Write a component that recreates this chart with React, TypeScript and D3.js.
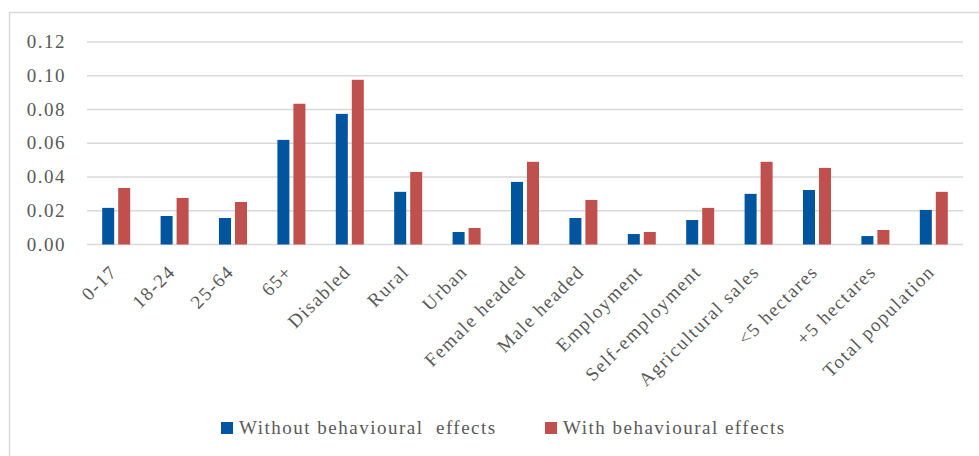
import React from "react";
import * as d3 from "d3";

const categories = [
  "0-17", "18-24", "25-64", "65+", "Disabled", "Rural", "Urban", "Female headed",
  "Male headed", "Employment", "Self-employment", "Agricultural sales",
  "<5 hectares", "+5 hectares", "Total population",
];
const withoutEffects = [0.0217, 0.0169, 0.0157, 0.062, 0.0774, 0.0312, 0.0074, 0.0371, 0.0157, 0.0062, 0.0145, 0.030, 0.0323, 0.005, 0.0205];
const withEffects = [0.0335, 0.0276, 0.0252, 0.0834, 0.0976, 0.043, 0.0098, 0.049, 0.0264, 0.0074, 0.0217, 0.049, 0.0454, 0.0086, 0.0312];
const yTicks = [0, 0.02, 0.04, 0.06, 0.08, 0.1, 0.12];
const seriesNames = ["Without behavioural  effects", "With behavioural effects"];
const colors = ["#01559E", "#C0504D"];

const W = 979;
const H = 456;
const font = "'Liberation Serif', 'Times New Roman', serif";
const textColor = "#595959";

export default function App() {
  const x = d3.scaleBand<string>().domain(categories).range([87, 963]);
  const y = d3.scaleLinear().domain([0, 0.12]).range([244.5, 42]);
  const barW = 12;
  const gap = 4;

  return (
    <svg width={W} height={H} style={{ position: "absolute", left: 0, top: 0, background: "#fff" }}
      fontFamily={font}>
      <rect x={9.5} y={12.5} width={1000} height={500} fill="#fff" stroke="#D9D9D9" strokeWidth={1.5} />
      {yTicks.map((t) => (
        <g key={t}>
          <line x1={87} x2={963} y1={y(t)} y2={y(t)} stroke="#D9D9D9" strokeWidth={1.5} />
          <text x={66} y={y(t) + 6} textAnchor="end" fontSize={19} letterSpacing={1.5} fill={textColor}>
            {d3.format(".2f")(t)}
          </text>
        </g>
      ))}
      {categories.map((c, i) => {
        const cx = (x(c) as number) + x.bandwidth() / 2;
        return (
          <g key={c}>
            <rect x={cx - gap / 2 - barW} y={y(withoutEffects[i])} width={barW}
              height={y(0) - y(withoutEffects[i])} fill={colors[0]} />
            <rect x={cx + gap / 2} y={y(withEffects[i])} width={barW}
              height={y(0) - y(withEffects[i])} fill={colors[1]} />
            <text transform={`translate(${cx + 2},${273}) rotate(-45)`} textAnchor="end"
              fontSize={19} letterSpacing={1.5} fill={textColor}>
              {c}
            </text>
          </g>
        );
      })}
      <g>
        <rect x={221} y={422} width={12} height={12} fill={colors[0]} />
        <text x={239} y={434} fontSize={19} letterSpacing={1.5} fill={textColor} style={{ whiteSpace: "pre" }}>
          {seriesNames[0]}
        </text>
        <rect x={545} y={422} width={12} height={12} fill={colors[1]} />
        <text x={563} y={434} fontSize={19} letterSpacing={1.5} fill={textColor} style={{ whiteSpace: "pre" }}>
          {seriesNames[1]}
        </text>
      </g>
    </svg>
  );
}
